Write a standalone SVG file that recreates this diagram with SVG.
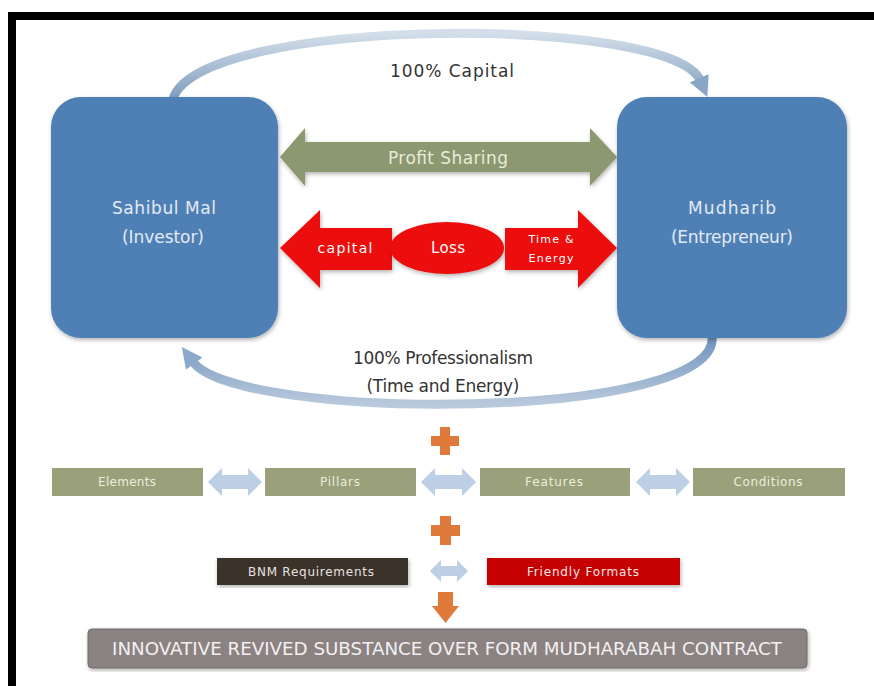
<svg xmlns="http://www.w3.org/2000/svg" width="874" height="686" viewBox="0 0 874 686">
<defs>
<style>
text{font-family:"DejaVu Sans","Liberation Sans",sans-serif;text-anchor:middle}
.box{fill:#4f80b5}
.boxt{fill:#e3eaf3;font-size:17px}
.arc{fill:none;stroke-width:9}
.dark{fill:#333;font-size:17px}
.olive{fill:#99a07a}
.olt{fill:#eceedd;font-size:12px}
.lb{fill:#bccfe5}
.or{fill:#e07a3a}
.red{fill:#ec1111}
.wt{fill:#fff}
</style>
<linearGradient id="gTop" x1="0" y1="0" x2="0" y2="1">
<stop offset="0" stop-color="#d4deea"/>
<stop offset="1" stop-color="#7f9dbf"/>
</linearGradient>
<linearGradient id="gBot" x1="0" y1="0" x2="0" y2="1">
<stop offset="0" stop-color="#6f93bd"/>
<stop offset="1" stop-color="#b9c9dc"/>
</linearGradient>
<marker id="hTop" viewBox="0 0 10 10" refX="1" refY="5" markerWidth="2.3" markerHeight="2.6" orient="auto"><path d="M0,0 L10,5 L0,10 z" fill="#8aa6c6"/></marker>
<marker id="hBot" viewBox="0 0 10 10" refX="1" refY="5" markerWidth="2.3" markerHeight="2.6" orient="auto"><path d="M0,0 L10,5 L0,10 z" fill="#8aa9cc"/></marker>
<filter id="sh" x="-10%" y="-10%" width="120%" height="120%"><feDropShadow dx="1" dy="2" stdDeviation="2" flood-color="#000" flood-opacity="0.3"/></filter>
</defs>
<rect width="874" height="686" fill="#fff"/>
<rect x="8" y="12" width="866" height="8" fill="#000"/>
<rect x="8" y="12" width="8" height="674" fill="#000"/>

<g id="connectors">
<path class="arc" d="M173 99 C198 15, 672 15, 700 80" stroke="url(#gTop)" marker-end="url(#hTop)"/>
<path class="arc" d="M712 336 C722 422, 238 422, 193 362" stroke="url(#gBot)" marker-end="url(#hBot)"/>
<polygon points="280,157 305,128 305,142 590,142 590,128 617,157 590,186 590,172 305,172 305,186" fill="#8c9870" filter="url(#sh)"/>
<polygon class="lb" points="208,482 222,468 222,475 248,475 248,468 262,482 248,496 248,489 222,489 222,496"/>
<polygon class="lb" points="421,482 435,468 435,475 462,475 462,468 476,482 462,496 462,489 435,489 435,496"/>
<polygon class="lb" points="636,482 650,468 650,475 676,475 676,468 690,482 676,496 676,489 650,489 650,496"/>
<polygon class="lb" points="430,571 441,560 441,566 457,566 457,560 468,571 457,582 457,576 441,576 441,582"/>
<polygon class="or" points="438,592 453,592 453,606 459,606 445.5,623 432,606 438,606"/>
</g>

<g id="label-capital"><text class="dark" x="452" y="77" textLength="124">100% Capital</text></g>
<g id="label-prof">
<text class="dark" x="443" y="364" textLength="180">100% Professionalism</text>
<text class="dark" x="443" y="392" textLength="153">(Time and Energy)</text>
</g>
<g id="label-profit"><text x="448" y="164" fill="#e8ebd8" font-size="17" textLength="120">Profit Sharing</text></g>

<g id="sahibul">
<rect class="box" x="51" y="97" width="227" height="241" rx="30" filter="url(#sh)"/>
<text class="boxt" x="164" y="214" textLength="104">Sahibul Mal</text>
<text class="boxt" x="163" y="243" textLength="82">(Investor)</text>
</g>
<g id="mudharib">
<rect class="box" x="617" y="97" width="230" height="241" rx="30" filter="url(#sh)"/>
<text class="boxt" x="732" y="214" textLength="88">Mudharib</text>
<text class="boxt" x="732" y="243" textLength="122">(Entrepreneur)</text>
</g>

<g id="loss-capital">
<polygon class="red" points="280,248 320,210 320,228 392,228 392,270 320,270 320,288" filter="url(#sh)"/>
<text class="wt" x="345" y="253" font-size="14" textLength="55">capital</text>
</g>
<g id="loss">
<ellipse class="red" cx="447" cy="248" rx="57" ry="26" filter="url(#sh)"/>
<text class="wt" x="448" y="253" font-size="15" textLength="34">Loss</text>
</g>
<g id="loss-time">
<polygon class="red" points="505,228 578,228 578,210 617,248 578,288 578,270 505,270" filter="url(#sh)"/>
<text class="wt" x="551" y="243" font-size="11" textLength="45">Time &amp;</text>
<text class="wt" x="551" y="262" font-size="11" textLength="45">Energy</text>
</g>

<g id="plus1"><path class="or" d="M440 427 h10 v9 h9 v10 h-9 v9 h-10 v-9 h-9 v-10 h9 z"/></g>

<g id="elements"><rect class="olive" x="52" y="468" width="151" height="28"/><text class="olt" x="127" y="486" textLength="58">Elements</text></g>
<g id="pillars"><rect class="olive" x="265" y="468" width="151" height="28"/><text class="olt" x="340" y="486" textLength="40">Pillars</text></g>
<g id="features"><rect class="olive" x="480" y="468" width="150" height="28"/><text class="olt" x="554" y="486" textLength="58">Features</text></g>
<g id="conditions"><rect class="olive" x="693" y="468" width="152" height="28"/><text class="olt" x="768" y="486" textLength="69">Conditions</text></g>

<g id="plus2"><path class="or" d="M440 516 h11 v9 h9 v11 h-9 v9 h-11 v-9 h-9 v-11 h9 z"/></g>

<g id="bnm"><rect x="217" y="558" width="191" height="27" fill="#3b302c" filter="url(#sh)"/><text x="311" y="576" fill="#e6e2e0" font-size="12" textLength="126">BNM Requirements</text></g>
<g id="friendly"><rect x="487" y="558" width="193" height="27" fill="#c40000" filter="url(#sh)"/><text x="583" y="576" fill="#f6e6e6" font-size="12" textLength="112">Friendly Formats</text></g>

<g id="banner">
<rect x="88" y="629" width="719" height="39" rx="4" fill="#8b8282" stroke="#6f6868" stroke-width="1" filter="url(#sh)"/>
<text x="447" y="655" fill="#f2f0f0" font-size="17" textLength="670" lengthAdjust="spacingAndGlyphs">INNOVATIVE REVIVED SUBSTANCE OVER FORM MUDHARABAH CONTRACT</text>
</g>
</svg>
